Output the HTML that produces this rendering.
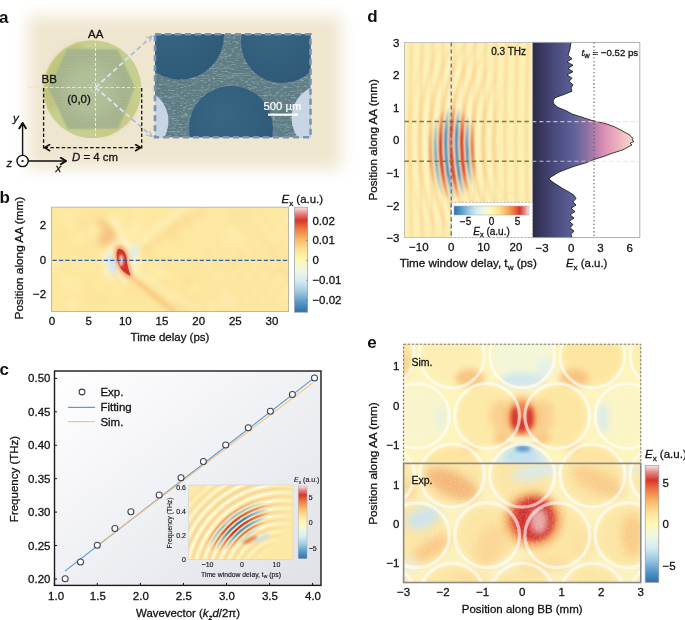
<!DOCTYPE html>
<html><head><meta charset="utf-8"><style>
html,body{margin:0;padding:0;background:#fff;width:685px;height:620px;overflow:hidden}
svg{display:block;will-change:transform}
text{font-family:"Liberation Sans",sans-serif;fill:#111;stroke:#111;stroke-width:0.28px}
</style></head><body>
<svg width="685" height="620" viewBox="0 0 685 620">
<defs>
<filter id="blur8" x="-20%" y="-20%" width="140%" height="140%"><feGaussianBlur stdDeviation="8"/></filter>
<filter id="blurR" x="-10%" y="-10%" width="120%" height="120%"><feGaussianBlur stdDeviation="0.45"/></filter>
<filter id="blur1" x="-50%" y="-50%" width="200%" height="200%"><feGaussianBlur stdDeviation="1"/></filter>
<filter id="blur2" x="-50%" y="-50%" width="200%" height="200%"><feGaussianBlur stdDeviation="2"/></filter>
<filter id="blur3" x="-50%" y="-50%" width="200%" height="200%"><feGaussianBlur stdDeviation="3"/></filter>
<filter id="blur4" x="-50%" y="-50%" width="200%" height="200%"><feGaussianBlur stdDeviation="4"/></filter>
<filter id="blur6" x="-50%" y="-50%" width="200%" height="200%"><feGaussianBlur stdDeviation="6"/></filter>
<marker id="arrB" viewBox="0 0 10 10" refX="9" refY="5" markerWidth="8.5" markerHeight="8.5" orient="auto-start-reverse" markerUnits="userSpaceOnUse"><path d="M2,0.6 L9,5 L2,9.4" fill="none" stroke="#111" stroke-width="2.3"/></marker>
<marker id="arrC" viewBox="0 0 10 10" refX="9" refY="5" markerWidth="8" markerHeight="8" orient="auto-start-reverse" markerUnits="userSpaceOnUse"><path d="M2,0.8 L9,5 L2,9.2" fill="none" stroke="#111" stroke-width="2"/></marker>
<marker id="arrL" viewBox="0 0 10 10" refX="9" refY="5" markerWidth="7" markerHeight="7" orient="auto" markerUnits="userSpaceOnUse"><path d="M1,1 L9,5 L1,9" fill="none" stroke="#a9b9d6" stroke-width="1.6"/></marker>
<pattern id="honey" width="3.2" height="5.5" patternUnits="userSpaceOnUse"><circle cx="1.6" cy="1.4" r="1.05" fill="#94a47e"/><circle cx="0" cy="4.15" r="1.05" fill="#94a47e"/><circle cx="3.2" cy="4.15" r="1.05" fill="#94a47e"/></pattern>
<radialGradient id="gCirc" cx="0.5" cy="0.5" r="0.5"><stop offset="0.7" stop-color="#c3c88a"/><stop offset="1" stop-color="#c9cb7c"/></radialGradient>
<radialGradient id="gHole" cx="0.4" cy="0.35" r="0.75"><stop offset="0" stop-color="#386683"/><stop offset="0.85" stop-color="#2f5b79"/><stop offset="1" stop-color="#2b5573"/></radialGradient>
<clipPath id="clipInset"><rect x="155" y="34.3" width="155.5" height="103"/></clipPath>
</defs>
<rect x="28" y="16" width="313" height="153" fill="#efe6cf" filter="url(#blur8)"/>
<circle cx="92.5" cy="89.2" r="49" fill="#c6cf90"/>
<path d="M50,112 A49,49 0 0 1 80,42 L84,50 A42,42 0 0 0 57,108 Z" fill="#bdbb6c" opacity="0.55" filter="url(#blur2)"/>
<path d="M100,137 A49,49 0 0 0 138,108 L128,104 A40,40 0 0 1 98,130 Z" fill="#c9c780" opacity="0.5" filter="url(#blur2)"/>
<polygon points="67.4,48.8 117.8,49.6 134.9,87.3 118.6,128.3 68.2,129.2 48.5,89" fill="#aab891" filter="url(#blur1)"/>
<polygon points="67.4,48.8 117.8,49.6 134.9,87.3 118.6,128.3 68.2,129.2 48.5,89" fill="url(#honey)" opacity="0.5"/>
<ellipse cx="90" cy="90" rx="26" ry="28" fill="#b9c69f" opacity="0.6" filter="url(#blur6)"/>
<line x1="28" y1="87.5" x2="154" y2="87.5" stroke="#dde4ef" stroke-width="1" stroke-dasharray="3.5 2"/>
<line x1="95.5" y1="38" x2="95.5" y2="141" stroke="#e6ebf3" stroke-width="1" stroke-dasharray="3 2"/>
<circle cx="95.2" cy="87.5" r="5" fill="none" stroke="#e4e9f0" stroke-width="0.9" stroke-dasharray="1.2 1.2"/>
<line x1="95.5" y1="87.5" x2="152" y2="36" stroke="#a9b9d6" stroke-width="1.7" stroke-dasharray="5 3" marker-end="url(#arrL)"/>
<line x1="95.5" y1="87.5" x2="152" y2="136.5" stroke="#a9b9d6" stroke-width="1.7" stroke-dasharray="5 3" marker-end="url(#arrL)"/>
<clipPath id="clipCirc"><circle cx="92.5" cy="89.2" r="48.5"/></clipPath>
<g clip-path="url(#clipCirc)"><line x1="95.5" y1="87.5" x2="152" y2="36" stroke="#dfe5f0" stroke-width="1.7" stroke-dasharray="5 3"/><line x1="95.5" y1="87.5" x2="152" y2="136.5" stroke="#dfe5f0" stroke-width="1.7" stroke-dasharray="5 3"/></g>
<line x1="43.6" y1="88" x2="43.6" y2="150" stroke="#111" stroke-width="1.3" stroke-dasharray="3.5 2.2"/>
<line x1="141.7" y1="88" x2="141.7" y2="150" stroke="#111" stroke-width="1.3" stroke-dasharray="3.5 2.2"/>
<line x1="44.6" y1="147.6" x2="140.7" y2="147.6" stroke="#111" stroke-width="1.3" stroke-dasharray="3.5 2.2" marker-start="url(#arrC)" marker-end="url(#arrC)"/>
<text x="88.0" y="37.6" font-size="11.5" text-anchor="start" >AA</text>
<text x="41.5" y="82.5" font-size="11.5" text-anchor="start" >BB</text>
<text x="67.2" y="103.0" font-size="11.5" text-anchor="start" >(0,0)</text>
<text x="72" y="161.4" font-size="11.4"><tspan font-style="italic">D</tspan> = 4 cm</text>
<circle cx="22.6" cy="161" r="5.6" fill="#fff" stroke="#111" stroke-width="1.4"/>
<circle cx="22.6" cy="161" r="1.1" fill="#111"/>
<line x1="22.6" y1="155.4" x2="22.6" y2="123" stroke="#111" stroke-width="1.4" marker-end="url(#arrB)"/>
<line x1="28.2" y1="161" x2="66" y2="161" stroke="#111" stroke-width="1.4" marker-end="url(#arrB)"/>
<text x="13" y="122" font-size="11.4" font-style="italic">y</text>
<text x="6.5" y="167" font-size="11.4" font-style="italic">z</text>
<text x="55.5" y="172" font-size="11.4" font-style="italic">x</text>
<g clip-path="url(#clipInset)">
<rect x="150" y="30" width="165" height="112" fill="#5e7c84"/>
<filter id="speck" x="0" y="0" width="100%" height="100%"><feTurbulence type="fractalNoise" baseFrequency="0.25 1.3" numOctaves="3" seed="9"/><feColorMatrix type="matrix" values="0 0 0 0 0.8  0 0 0 0 0.88  0 0 0 0 0.9  0 0 0 2.0 -1.0"/><feGaussianBlur stdDeviation="0.35"/></filter>
<rect x="150" y="30" width="165" height="112" filter="url(#speck)" opacity="0.55"/>
<line x1="191.9" y1="90.1" x2="209.1" y2="90.3" stroke="#9fb6ba" stroke-width="0.7" opacity="0.45"/>
<line x1="252.0" y1="40.7" x2="260.3" y2="41.4" stroke="#9fb6ba" stroke-width="0.7" opacity="0.45"/>
<line x1="195.2" y1="58.1" x2="228.1" y2="58.1" stroke="#9fb6ba" stroke-width="0.7" opacity="0.45"/>
<line x1="284.7" y1="83.1" x2="308.6" y2="82.4" stroke="#9fb6ba" stroke-width="0.7" opacity="0.45"/>
<line x1="253.4" y1="123.4" x2="274.5" y2="123.9" stroke="#9fb6ba" stroke-width="0.7" opacity="0.45"/>
<line x1="259.1" y1="40.6" x2="286.0" y2="40.8" stroke="#9fb6ba" stroke-width="0.7" opacity="0.45"/>
<line x1="201.7" y1="37.2" x2="231.3" y2="37.1" stroke="#9fb6ba" stroke-width="0.7" opacity="0.45"/>
<line x1="266.4" y1="124.5" x2="292.3" y2="125.4" stroke="#9fb6ba" stroke-width="0.7" opacity="0.45"/>
<line x1="216.2" y1="116.5" x2="235.3" y2="117.4" stroke="#9fb6ba" stroke-width="0.7" opacity="0.45"/>
<line x1="291.2" y1="44.0" x2="302.6" y2="43.5" stroke="#9fb6ba" stroke-width="0.7" opacity="0.45"/>
<line x1="304.6" y1="78.9" x2="328.3" y2="78.5" stroke="#9fb6ba" stroke-width="0.7" opacity="0.45"/>
<line x1="233.6" y1="73.7" x2="250.4" y2="73.9" stroke="#9fb6ba" stroke-width="0.7" opacity="0.45"/>
<line x1="245.6" y1="127.1" x2="270.6" y2="128.0" stroke="#9fb6ba" stroke-width="0.7" opacity="0.45"/>
<line x1="287.7" y1="136.1" x2="312.5" y2="135.4" stroke="#9fb6ba" stroke-width="0.7" opacity="0.45"/>
<line x1="288.4" y1="133.4" x2="319.0" y2="133.5" stroke="#9fb6ba" stroke-width="0.7" opacity="0.45"/>
<line x1="265.6" y1="55.7" x2="294.4" y2="55.9" stroke="#9fb6ba" stroke-width="0.7" opacity="0.45"/>
<line x1="199.2" y1="40.5" x2="228.5" y2="41.5" stroke="#9fb6ba" stroke-width="0.7" opacity="0.45"/>
<line x1="168.7" y1="116.5" x2="187.0" y2="115.8" stroke="#9fb6ba" stroke-width="0.7" opacity="0.45"/>
<line x1="200.6" y1="113.2" x2="230.4" y2="112.3" stroke="#9fb6ba" stroke-width="0.7" opacity="0.45"/>
<line x1="250.3" y1="38.6" x2="276.2" y2="38.3" stroke="#9fb6ba" stroke-width="0.7" opacity="0.45"/>
<line x1="291.5" y1="135.0" x2="312.2" y2="136.0" stroke="#9fb6ba" stroke-width="0.7" opacity="0.45"/>
<line x1="203.0" y1="41.9" x2="226.0" y2="41.0" stroke="#9fb6ba" stroke-width="0.7" opacity="0.45"/>
<line x1="185.6" y1="76.0" x2="208.9" y2="75.3" stroke="#9fb6ba" stroke-width="0.7" opacity="0.45"/>
<line x1="161.6" y1="123.4" x2="177.4" y2="124.3" stroke="#9fb6ba" stroke-width="0.7" opacity="0.45"/>
<line x1="294.0" y1="72.9" x2="313.5" y2="73.0" stroke="#9fb6ba" stroke-width="0.7" opacity="0.45"/>
<line x1="254.8" y1="95.4" x2="276.8" y2="95.6" stroke="#9fb6ba" stroke-width="0.7" opacity="0.45"/>
<line x1="300.8" y1="86.2" x2="319.6" y2="86.7" stroke="#9fb6ba" stroke-width="0.7" opacity="0.45"/>
<line x1="191.8" y1="65.0" x2="224.3" y2="65.1" stroke="#9fb6ba" stroke-width="0.7" opacity="0.45"/>
<line x1="240.0" y1="35.2" x2="258.4" y2="35.3" stroke="#9fb6ba" stroke-width="0.7" opacity="0.45"/>
<line x1="158.1" y1="97.4" x2="181.9" y2="96.5" stroke="#9fb6ba" stroke-width="0.7" opacity="0.45"/>
<line x1="252.2" y1="82.0" x2="277.2" y2="81.7" stroke="#9fb6ba" stroke-width="0.7" opacity="0.45"/>
<line x1="264.6" y1="110.0" x2="273.1" y2="109.1" stroke="#9fb6ba" stroke-width="0.7" opacity="0.45"/>
<line x1="259.8" y1="133.2" x2="274.1" y2="133.1" stroke="#9fb6ba" stroke-width="0.7" opacity="0.45"/>
<line x1="246.9" y1="67.0" x2="264.0" y2="66.6" stroke="#9fb6ba" stroke-width="0.7" opacity="0.45"/>
<line x1="212.2" y1="95.3" x2="227.7" y2="95.1" stroke="#9fb6ba" stroke-width="0.7" opacity="0.45"/>
<line x1="274.7" y1="36.8" x2="296.9" y2="37.2" stroke="#9fb6ba" stroke-width="0.7" opacity="0.45"/>
<line x1="203.1" y1="56.9" x2="231.1" y2="56.4" stroke="#9fb6ba" stroke-width="0.7" opacity="0.45"/>
<line x1="184.0" y1="78.8" x2="209.5" y2="78.0" stroke="#9fb6ba" stroke-width="0.7" opacity="0.45"/>
<line x1="204.9" y1="68.4" x2="233.7" y2="68.3" stroke="#9fb6ba" stroke-width="0.7" opacity="0.45"/>
<line x1="287.6" y1="51.4" x2="304.0" y2="51.7" stroke="#9fb6ba" stroke-width="0.7" opacity="0.45"/>
<line x1="292.2" y1="80.5" x2="305.8" y2="79.7" stroke="#9fb6ba" stroke-width="0.7" opacity="0.45"/>
<line x1="237.1" y1="53.7" x2="265.3" y2="54.3" stroke="#9fb6ba" stroke-width="0.7" opacity="0.45"/>
<line x1="183.5" y1="62.7" x2="211.6" y2="63.0" stroke="#9fb6ba" stroke-width="0.7" opacity="0.45"/>
<line x1="280.0" y1="69.6" x2="291.2" y2="69.1" stroke="#9fb6ba" stroke-width="0.7" opacity="0.45"/>
<line x1="278.0" y1="61.9" x2="294.7" y2="61.8" stroke="#9fb6ba" stroke-width="0.7" opacity="0.45"/>
<line x1="220.1" y1="76.2" x2="251.1" y2="75.5" stroke="#9fb6ba" stroke-width="0.7" opacity="0.45"/>
<line x1="155.7" y1="131.2" x2="185.7" y2="132.1" stroke="#9fb6ba" stroke-width="0.7" opacity="0.45"/>
<line x1="222.3" y1="131.9" x2="253.5" y2="131.3" stroke="#9fb6ba" stroke-width="0.7" opacity="0.45"/>
<line x1="270.6" y1="120.2" x2="295.1" y2="120.2" stroke="#9fb6ba" stroke-width="0.7" opacity="0.45"/>
<line x1="199.8" y1="69.1" x2="213.5" y2="68.3" stroke="#9fb6ba" stroke-width="0.7" opacity="0.45"/>
<line x1="246.2" y1="63.6" x2="274.5" y2="62.7" stroke="#9fb6ba" stroke-width="0.7" opacity="0.45"/>
<line x1="295.1" y1="105.5" x2="326.2" y2="106.2" stroke="#9fb6ba" stroke-width="0.7" opacity="0.45"/>
<line x1="294.4" y1="93.4" x2="302.8" y2="93.9" stroke="#9fb6ba" stroke-width="0.7" opacity="0.45"/>
<line x1="181.6" y1="64.9" x2="206.2" y2="64.9" stroke="#9fb6ba" stroke-width="0.7" opacity="0.45"/>
<line x1="219.1" y1="130.7" x2="242.4" y2="130.4" stroke="#9fb6ba" stroke-width="0.7" opacity="0.45"/>
<line x1="194.1" y1="122.8" x2="214.1" y2="123.3" stroke="#9fb6ba" stroke-width="0.7" opacity="0.45"/>
<line x1="209.5" y1="54.3" x2="230.9" y2="55.0" stroke="#9fb6ba" stroke-width="0.7" opacity="0.45"/>
<line x1="181.6" y1="115.5" x2="212.6" y2="116.2" stroke="#9fb6ba" stroke-width="0.7" opacity="0.45"/>
<line x1="282.6" y1="34.8" x2="306.4" y2="35.5" stroke="#9fb6ba" stroke-width="0.7" opacity="0.45"/>
<line x1="162.7" y1="62.0" x2="177.5" y2="62.0" stroke="#9fb6ba" stroke-width="0.7" opacity="0.45"/>
<circle cx="136" cy="121" r="32.5" fill="#c8d5e4"/>
<circle cx="325" cy="118" r="33.5" fill="#c8d5e4"/>
<circle cx="180" cy="35.5" r="44" fill="url(#gHole)"/>
<circle cx="282" cy="42" r="41" fill="url(#gHole)"/>
<circle cx="231" cy="128" r="42" fill="url(#gHole)"/>
</g>
<rect x="155" y="34.3" width="155.5" height="103" fill="none" stroke="#7b93b8" stroke-width="2.6" stroke-dasharray="6 4"/>
<text x="263.4" y="110.2" font-size="11.3" style="fill:#fff;stroke:#fff;stroke-width:0.2px">500 µm</text>
<rect x="268" y="113.6" width="30" height="2.2" fill="#fff"/>
<text x="-1.1" y="22.7" font-size="17" font-weight="bold" style="stroke-width:0">a</text>
<text x="-0.5" y="203.0" font-size="17" font-weight="bold" style="stroke-width:0">b</text>
<text x="-0.5" y="374.5" font-size="17" font-weight="bold" style="stroke-width:0">c</text>
<text x="367.2" y="22.4" font-size="17" font-weight="bold" style="stroke-width:0">d</text>
<text x="367.2" y="348.4" font-size="17" font-weight="bold" style="stroke-width:0">e</text>
<clipPath id="clipB"><rect x="51.5" y="207.2" width="237.1" height="104.4"/></clipPath>
<g clip-path="url(#clipB)">
<rect x="51.5" y="207.2" width="237.1" height="104.4" fill="#fde89f"/>
<ellipse cx="128.3" cy="222.9" rx="4.4" ry="5.7" fill="#fbdf98" opacity="0.5" filter="url(#blur3)"/>
<ellipse cx="138.2" cy="213.3" rx="4.2" ry="5.2" fill="#feefb2" opacity="0.5" filter="url(#blur3)"/>
<ellipse cx="68.1" cy="216.7" rx="4.4" ry="5.8" fill="#fff1b6" opacity="0.5" filter="url(#blur3)"/>
<ellipse cx="276.1" cy="273.0" rx="7.5" ry="5.0" fill="#fbdf98" opacity="0.5" filter="url(#blur3)"/>
<ellipse cx="283.0" cy="212.1" rx="5.7" ry="3.7" fill="#feefb2" opacity="0.5" filter="url(#blur3)"/>
<ellipse cx="79.4" cy="239.4" rx="4.6" ry="5.9" fill="#feefb2" opacity="0.5" filter="url(#blur3)"/>
<ellipse cx="96.0" cy="217.4" rx="7.4" ry="6.1" fill="#fbdf98" opacity="0.5" filter="url(#blur3)"/>
<ellipse cx="169.2" cy="262.7" rx="6.8" ry="7.6" fill="#fce095" opacity="0.5" filter="url(#blur3)"/>
<ellipse cx="137.2" cy="233.1" rx="8.2" ry="4.2" fill="#feefb2" opacity="0.5" filter="url(#blur3)"/>
<ellipse cx="187.7" cy="262.0" rx="8.4" ry="4.4" fill="#fce095" opacity="0.5" filter="url(#blur3)"/>
<ellipse cx="283.9" cy="219.5" rx="5.0" ry="4.7" fill="#fff1b6" opacity="0.5" filter="url(#blur3)"/>
<ellipse cx="272.8" cy="251.2" rx="8.6" ry="5.9" fill="#fbdf98" opacity="0.5" filter="url(#blur3)"/>
<ellipse cx="259.1" cy="240.0" rx="7.6" ry="5.9" fill="#fce095" opacity="0.5" filter="url(#blur3)"/>
<ellipse cx="159.7" cy="294.9" rx="6.8" ry="6.3" fill="#fce095" opacity="0.5" filter="url(#blur3)"/>
<ellipse cx="65.9" cy="280.4" rx="5.7" ry="4.9" fill="#fff1b6" opacity="0.5" filter="url(#blur3)"/>
<ellipse cx="210.0" cy="209.6" rx="6.1" ry="6.1" fill="#fff1b6" opacity="0.5" filter="url(#blur3)"/>
<ellipse cx="168.6" cy="230.0" rx="4.8" ry="4.2" fill="#fce095" opacity="0.5" filter="url(#blur3)"/>
<ellipse cx="144.2" cy="298.2" rx="5.0" ry="5.0" fill="#fbdf98" opacity="0.5" filter="url(#blur3)"/>
<ellipse cx="117.4" cy="221.5" rx="9.2" ry="4.4" fill="#fff1b6" opacity="0.5" filter="url(#blur3)"/>
<ellipse cx="150.0" cy="244.7" rx="9.7" ry="3.8" fill="#fff1b6" opacity="0.5" filter="url(#blur3)"/>
<ellipse cx="93.3" cy="231.4" rx="4.1" ry="7.2" fill="#feefb2" opacity="0.5" filter="url(#blur3)"/>
<ellipse cx="94.7" cy="236.6" rx="6.5" ry="4.8" fill="#feefb2" opacity="0.5" filter="url(#blur3)"/>
<ellipse cx="185.8" cy="306.7" rx="6.7" ry="7.4" fill="#fbdf98" opacity="0.5" filter="url(#blur3)"/>
<ellipse cx="277.2" cy="278.3" rx="6.4" ry="5.0" fill="#fff1b6" opacity="0.5" filter="url(#blur3)"/>
<ellipse cx="165.7" cy="249.0" rx="4.4" ry="4.0" fill="#feefb2" opacity="0.5" filter="url(#blur3)"/>
<ellipse cx="90.0" cy="242.7" rx="4.6" ry="5.8" fill="#fbdf98" opacity="0.5" filter="url(#blur3)"/>
<ellipse cx="178.7" cy="306.3" rx="4.4" ry="4.0" fill="#fbdf98" opacity="0.5" filter="url(#blur3)"/>
<ellipse cx="140.7" cy="273.4" rx="7.6" ry="5.4" fill="#fce095" opacity="0.5" filter="url(#blur3)"/>
<ellipse cx="78.9" cy="258.2" rx="6.9" ry="4.6" fill="#fff1b6" opacity="0.5" filter="url(#blur3)"/>
<ellipse cx="85.7" cy="285.5" rx="6.9" ry="6.5" fill="#fce095" opacity="0.5" filter="url(#blur3)"/>
<ellipse cx="173.9" cy="228.6" rx="4.9" ry="5.7" fill="#fce095" opacity="0.5" filter="url(#blur3)"/>
<ellipse cx="57.9" cy="262.3" rx="8.2" ry="4.3" fill="#fbdf98" opacity="0.5" filter="url(#blur3)"/>
<ellipse cx="138.4" cy="224.6" rx="7.2" ry="6.9" fill="#feefb2" opacity="0.5" filter="url(#blur3)"/>
<ellipse cx="129.7" cy="230.5" rx="8.8" ry="7.1" fill="#feefb2" opacity="0.5" filter="url(#blur3)"/>
<ellipse cx="226.9" cy="230.9" rx="6.1" ry="3.1" fill="#fff1b6" opacity="0.5" filter="url(#blur3)"/>
<ellipse cx="58.1" cy="236.4" rx="5.2" ry="6.0" fill="#fce095" opacity="0.5" filter="url(#blur3)"/>
<ellipse cx="133.1" cy="291.6" rx="9.7" ry="4.8" fill="#fce095" opacity="0.5" filter="url(#blur3)"/>
<ellipse cx="103.8" cy="230.9" rx="6.0" ry="5.4" fill="#feefb2" opacity="0.5" filter="url(#blur3)"/>
<ellipse cx="285.1" cy="270.9" rx="6.9" ry="6.3" fill="#fbdf98" opacity="0.5" filter="url(#blur3)"/>
<ellipse cx="241.1" cy="216.1" rx="9.5" ry="6.9" fill="#fbdf98" opacity="0.5" filter="url(#blur3)"/>
<ellipse cx="229.4" cy="257.1" rx="6.6" ry="6.2" fill="#feefb2" opacity="0.5" filter="url(#blur3)"/>
<ellipse cx="72.1" cy="306.0" rx="6.8" ry="6.7" fill="#fff1b6" opacity="0.5" filter="url(#blur3)"/>
<ellipse cx="71.6" cy="223.8" rx="4.2" ry="6.0" fill="#feefb2" opacity="0.5" filter="url(#blur3)"/>
<ellipse cx="161.8" cy="275.7" rx="7.9" ry="4.8" fill="#fff1b6" opacity="0.5" filter="url(#blur3)"/>
<ellipse cx="181.6" cy="220.9" rx="8.8" ry="6.6" fill="#fbdf98" opacity="0.5" filter="url(#blur3)"/>
<ellipse cx="75.9" cy="285.4" rx="6.6" ry="7.4" fill="#feefb2" opacity="0.5" filter="url(#blur3)"/>
<ellipse cx="247.4" cy="229.2" rx="5.3" ry="5.5" fill="#fce095" opacity="0.5" filter="url(#blur3)"/>
<ellipse cx="232.6" cy="241.2" rx="9.0" ry="3.3" fill="#fff1b6" opacity="0.5" filter="url(#blur3)"/>
<ellipse cx="226.9" cy="300.9" rx="9.0" ry="7.4" fill="#fff1b6" opacity="0.5" filter="url(#blur3)"/>
<ellipse cx="82.5" cy="223.1" rx="9.2" ry="6.9" fill="#fbdf98" opacity="0.5" filter="url(#blur3)"/>
<ellipse cx="195.8" cy="288.2" rx="5.0" ry="5.4" fill="#feefb2" opacity="0.5" filter="url(#blur3)"/>
<ellipse cx="223.4" cy="265.3" rx="8.1" ry="5.7" fill="#fce095" opacity="0.5" filter="url(#blur3)"/>
<ellipse cx="165.9" cy="288.3" rx="5.5" ry="4.4" fill="#fbdf98" opacity="0.5" filter="url(#blur3)"/>
<ellipse cx="234.6" cy="260.2" rx="8.6" ry="7.6" fill="#fbdf98" opacity="0.5" filter="url(#blur3)"/>
<ellipse cx="156.6" cy="271.1" rx="8.2" ry="5.3" fill="#feefb2" opacity="0.5" filter="url(#blur3)"/>
<ellipse cx="177.9" cy="257.1" rx="8.2" ry="7.4" fill="#feefb2" opacity="0.5" filter="url(#blur3)"/>
<ellipse cx="274.9" cy="234.3" rx="9.0" ry="3.7" fill="#feefb2" opacity="0.5" filter="url(#blur3)"/>
<ellipse cx="80.3" cy="253.4" rx="8.0" ry="5.1" fill="#fbdf98" opacity="0.5" filter="url(#blur3)"/>
<ellipse cx="101.9" cy="238.8" rx="9.4" ry="3.8" fill="#fbdf98" opacity="0.5" filter="url(#blur3)"/>
<ellipse cx="221.3" cy="276.1" rx="5.5" ry="3.7" fill="#feefb2" opacity="0.5" filter="url(#blur3)"/>
<ellipse cx="162.4" cy="285.2" rx="6.4" ry="5.4" fill="#fbdf98" opacity="0.5" filter="url(#blur3)"/>
<ellipse cx="286.2" cy="294.1" rx="8.2" ry="8.0" fill="#feefb2" opacity="0.5" filter="url(#blur3)"/>
<ellipse cx="147.2" cy="251.2" rx="5.9" ry="6.6" fill="#fce095" opacity="0.5" filter="url(#blur3)"/>
<ellipse cx="56.1" cy="265.0" rx="8.2" ry="4.9" fill="#fff1b6" opacity="0.5" filter="url(#blur3)"/>
<ellipse cx="174.2" cy="238.0" rx="4.7" ry="7.6" fill="#fbdf98" opacity="0.5" filter="url(#blur3)"/>
<ellipse cx="105.7" cy="298.7" rx="5.6" ry="3.2" fill="#fbdf98" opacity="0.5" filter="url(#blur3)"/>
<ellipse cx="236.2" cy="235.4" rx="8.9" ry="7.2" fill="#feefb2" opacity="0.5" filter="url(#blur3)"/>
<ellipse cx="211.8" cy="306.0" rx="4.9" ry="7.6" fill="#fff1b6" opacity="0.5" filter="url(#blur3)"/>
<ellipse cx="186.8" cy="280.3" rx="5.7" ry="7.0" fill="#fbdf98" opacity="0.5" filter="url(#blur3)"/>
<ellipse cx="95.0" cy="300.7" rx="9.6" ry="6.2" fill="#fce095" opacity="0.5" filter="url(#blur3)"/>
<path d="M127,273 L158,299 L175,312" stroke="#f7c07c" stroke-width="5" fill="none" opacity="0.8" filter="url(#blur2)"/>
<path d="M132,268 L165,290 L200,312" stroke="#fff1c0" stroke-width="5" fill="none" opacity="0.8" filter="url(#blur3)"/>
<path d="M136,246 L166,221 L185,207" stroke="#fff1c0" stroke-width="6" fill="none" opacity="0.8" filter="url(#blur3)"/>
<path d="M142,252 L180,225 L210,207" stroke="#f9d08e" stroke-width="5" fill="none" opacity="0.55" filter="url(#blur3)"/>
<path d="M121,248 L100,220" stroke="#f6bd7d" stroke-width="7" fill="none" opacity="0.8" filter="url(#blur3)"/>
<path d="M126,245 L112,217" stroke="#fff3c4" stroke-width="5" fill="none" opacity="0.8" filter="url(#blur2)"/>
<g opacity="0.35" filter="url(#blur3)"><path d="M170,207 L240,312" stroke="#fff0bd" stroke-width="4" fill="none"/><path d="M170,312 L240,207" stroke="#fbdb9c" stroke-width="4" fill="none"/><path d="M186,207 L256,312" stroke="#fff0bd" stroke-width="4" fill="none"/><path d="M186,312 L256,207" stroke="#fbdb9c" stroke-width="4" fill="none"/><path d="M202,207 L272,312" stroke="#fff0bd" stroke-width="4" fill="none"/><path d="M202,312 L272,207" stroke="#fbdb9c" stroke-width="4" fill="none"/><path d="M218,207 L288,312" stroke="#fff0bd" stroke-width="4" fill="none"/><path d="M218,312 L288,207" stroke="#fbdb9c" stroke-width="4" fill="none"/><path d="M234,207 L304,312" stroke="#fff0bd" stroke-width="4" fill="none"/><path d="M234,312 L304,207" stroke="#fbdb9c" stroke-width="4" fill="none"/><path d="M250,207 L320,312" stroke="#fff0bd" stroke-width="4" fill="none"/><path d="M250,312 L320,207" stroke="#fbdb9c" stroke-width="4" fill="none"/><path d="M266,207 L336,312" stroke="#fff0bd" stroke-width="4" fill="none"/><path d="M266,312 L336,207" stroke="#fbdb9c" stroke-width="4" fill="none"/><path d="M282,207 L352,312" stroke="#fff0bd" stroke-width="4" fill="none"/><path d="M282,312 L352,207" stroke="#fbdb9c" stroke-width="4" fill="none"/></g>
<ellipse cx="121" cy="260" rx="18" ry="22" fill="#fff6cf" opacity="0.9" filter="url(#blur4)"/>
<ellipse cx="106" cy="238" rx="7" ry="10" transform="rotate(25 106 238)" fill="#f7bf7e" opacity="0.85" filter="url(#blur3)"/>
<path d="M112,270 L120,283" stroke="#fad493" stroke-width="5" fill="none" opacity="0.6" filter="url(#blur2)"/>
<ellipse cx="111.5" cy="264" rx="4.5" ry="11" transform="rotate(-20 111.5 264)" fill="#d3e9f3" filter="url(#blur2)"/>
<ellipse cx="133.5" cy="252.5" rx="3.6" ry="8" transform="rotate(18 133.5 252.5)" fill="#dcedf0" filter="url(#blur2)"/>
<path d="M119,250.5 C123,250.5 125.5,254 126,259 C126.5,265 128,270 129.5,274 C125,272.5 121,269 119,264 C117,259 116.5,253 119,250.5 Z" fill="#ef8a4c" transform="translate(122 262) scale(1.45) translate(-122 -262)" filter="url(#blur2)"/>
<path d="M119,250.5 C123,250.5 125.5,254 126,259 C126.5,265 128,270 129.5,274 C125,272.5 121,269 119,264 C117,259 116.5,253 119,250.5 Z" fill="#d3302a" transform="translate(122 262) scale(1.15) translate(-122 -262)" filter="url(#blurR)"/>
<ellipse cx="121.2" cy="260.5" rx="2.2" ry="6" fill="#f0c6c6" filter="url(#blur1)"/>
</g>
<rect x="51.5" y="207.2" width="237.1" height="104.4" fill="none" stroke="#b0a890" stroke-width="0.8"/>
<line x1="52.5" y1="260.4" x2="288.6" y2="260.4" stroke="#2f5d9e" stroke-width="1.3" stroke-dasharray="4.3 2.1"/>
<text x="46.2" y="228.8" font-size="11.5" text-anchor="end" >2</text>
<text x="46.2" y="263.6" font-size="11.5" text-anchor="end" >0</text>
<text x="46.2" y="298.4" font-size="11.5" text-anchor="end" >−2</text>
<text x="52.0" y="325.0" font-size="11.5" text-anchor="middle" >0</text>
<text x="88.7" y="325.0" font-size="11.5" text-anchor="middle" >5</text>
<text x="125.3" y="325.0" font-size="11.5" text-anchor="middle" >10</text>
<text x="162.0" y="325.0" font-size="11.5" text-anchor="middle" >15</text>
<text x="198.7" y="325.0" font-size="11.5" text-anchor="middle" >20</text>
<text x="235.3" y="325.0" font-size="11.5" text-anchor="middle" >25</text>
<text x="272.0" y="325.0" font-size="11.5" text-anchor="middle" >30</text>
<text x="170.0" y="341.0" font-size="11.5" text-anchor="middle" >Time delay (ps)</text>
<text transform="translate(22.7,258.1) rotate(-90)" x="0" y="0" font-size="11.8" text-anchor="middle">Position along AA (mm)</text>
<linearGradient id="cbV" x1="0" y1="0" x2="0" y2="1"><stop offset="0.000" stop-color="#fbe4e4"/><stop offset="0.060" stop-color="#e48585"/><stop offset="0.125" stop-color="#d7352b"/><stop offset="0.200" stop-color="#ee7440"/><stop offset="0.300" stop-color="#f9b464"/><stop offset="0.400" stop-color="#fee196"/><stop offset="0.500" stop-color="#fff7b2"/><stop offset="0.600" stop-color="#eef7e2"/><stop offset="0.700" stop-color="#d6ecf3"/><stop offset="0.800" stop-color="#9fcbe3"/><stop offset="0.900" stop-color="#5a9bcb"/><stop offset="1.000" stop-color="#2a70b0"/></linearGradient>
<rect x="294.6" y="207.2" width="13.1" height="105" fill="url(#cbV)" stroke="#999" stroke-width="0.7"/>
<text x="312.4" y="224.5" font-size="11.5" text-anchor="start" >0.02</text>
<line x1="306" y1="220.5" x2="307.7" y2="220.5" stroke="#666" stroke-width="0.6"/>
<text x="312.4" y="244.4" font-size="11.5" text-anchor="start" >0.01</text>
<line x1="306" y1="240.4" x2="307.7" y2="240.4" stroke="#666" stroke-width="0.6"/>
<text x="312.4" y="264.4" font-size="11.5" text-anchor="start" >0</text>
<line x1="306" y1="260.4" x2="307.7" y2="260.4" stroke="#666" stroke-width="0.6"/>
<text x="312.4" y="284.3" font-size="11.5" text-anchor="start" >−0.01</text>
<line x1="306" y1="280.3" x2="307.7" y2="280.3" stroke="#666" stroke-width="0.6"/>
<text x="312.4" y="304.3" font-size="11.5" text-anchor="start" >−0.02</text>
<line x1="306" y1="300.3" x2="307.7" y2="300.3" stroke="#666" stroke-width="0.6"/>
<text x="281.6" y="203" font-size="11.4"><tspan font-style="italic">E</tspan><tspan font-size="8" dy="2.5">x</tspan><tspan dy="-2.5"> (a.u.)</tspan></text>
<linearGradient id="gC" x1="0" y1="0" x2="1" y2="1"><stop offset="0" stop-color="#ffffff"/><stop offset="0.55" stop-color="#eeeff3"/><stop offset="1" stop-color="#e0e1e6"/></linearGradient>
<rect x="54.5" y="371.0" width="266.5" height="214.4" fill="url(#gC)"/>
<line x1="54.5" y1="378.4" x2="57.0" y2="378.4" stroke="#111" stroke-width="1"/>
<text x="50.5" y="382.4" font-size="11.5" text-anchor="end" >0.50</text>
<line x1="54.5" y1="411.8" x2="57.0" y2="411.8" stroke="#111" stroke-width="1"/>
<text x="50.5" y="415.8" font-size="11.5" text-anchor="end" >0.45</text>
<line x1="54.5" y1="445.3" x2="57.0" y2="445.3" stroke="#111" stroke-width="1"/>
<text x="50.5" y="449.3" font-size="11.5" text-anchor="end" >0.40</text>
<line x1="54.5" y1="478.7" x2="57.0" y2="478.7" stroke="#111" stroke-width="1"/>
<text x="50.5" y="482.7" font-size="11.5" text-anchor="end" >0.35</text>
<line x1="54.5" y1="512.1" x2="57.0" y2="512.1" stroke="#111" stroke-width="1"/>
<text x="50.5" y="516.1" font-size="11.5" text-anchor="end" >0.30</text>
<line x1="54.5" y1="545.5" x2="57.0" y2="545.5" stroke="#111" stroke-width="1"/>
<text x="50.5" y="549.5" font-size="11.5" text-anchor="end" >0.25</text>
<line x1="54.5" y1="579.0" x2="57.0" y2="579.0" stroke="#111" stroke-width="1"/>
<text x="50.5" y="583.0" font-size="11.5" text-anchor="end" >0.20</text>
<line x1="54.3" y1="585.4" x2="54.3" y2="582.9" stroke="#111" stroke-width="1"/>
<text x="56.1" y="600.0" font-size="11.5" text-anchor="middle" >1.0</text>
<line x1="97.3" y1="585.4" x2="97.3" y2="582.9" stroke="#111" stroke-width="1"/>
<text x="97.8" y="600.0" font-size="11.5" text-anchor="middle" >1.5</text>
<line x1="140.4" y1="585.4" x2="140.4" y2="582.9" stroke="#111" stroke-width="1"/>
<text x="140.8" y="600.0" font-size="11.5" text-anchor="middle" >2.0</text>
<line x1="183.4" y1="585.4" x2="183.4" y2="582.9" stroke="#111" stroke-width="1"/>
<text x="183.8" y="600.0" font-size="11.5" text-anchor="middle" >2.5</text>
<line x1="226.5" y1="585.4" x2="226.5" y2="582.9" stroke="#111" stroke-width="1"/>
<text x="226.9" y="600.0" font-size="11.5" text-anchor="middle" >3.0</text>
<line x1="269.6" y1="585.4" x2="269.6" y2="582.9" stroke="#111" stroke-width="1"/>
<text x="269.9" y="600.0" font-size="11.5" text-anchor="middle" >3.5</text>
<line x1="312.6" y1="585.4" x2="312.6" y2="582.9" stroke="#111" stroke-width="1"/>
<text x="313.0" y="600.0" font-size="11.5" text-anchor="middle" >4.0</text>
<text x="188" y="617" font-size="11.4" text-anchor="middle">Wavevector (<tspan font-style="italic">k</tspan><tspan font-style="italic" font-size="8" dy="2.5">z</tspan><tspan font-style="italic" dy="-2.5">d</tspan>/2π)</text>
<text transform="translate(17.5,479) rotate(-90)" font-size="11.5" text-anchor="middle">Frequency (THz)</text>
<line x1="64.9" y1="571.1" x2="314.5" y2="377.6" stroke="#5b9bd3" stroke-width="1.2"/>
<line x1="97.4" y1="545.2" x2="312.6" y2="383.1" stroke="#f5c57e" stroke-width="1.2" opacity="0.9"/>
<clipPath id="clipCI"><rect x="188.6" y="485.0" width="104.4" height="74.4"/></clipPath>
<radialGradient id="rgW"><stop offset="0" stop-color="#fff"/><stop offset="0.45" stop-color="#fff" stop-opacity="0.9"/><stop offset="1" stop-color="#000" stop-opacity="0"/></radialGradient>
<radialGradient id="rgW2"><stop offset="0" stop-color="#fff"/><stop offset="1" stop-color="#fff" stop-opacity="0"/></radialGradient>
<radialGradient id="rgP"><stop offset="0" stop-color="#fff"/><stop offset="0.5" stop-color="#fff"/><stop offset="1" stop-color="#fff" stop-opacity="0"/></radialGradient>
<radialGradient id="rgQ"><stop offset="0" stop-color="#fff"/><stop offset="0.25" stop-color="#fff"/><stop offset="0.6" stop-color="#fff" stop-opacity="0.5"/><stop offset="1" stop-color="#fff" stop-opacity="0"/></radialGradient>
<mask id="mCI" maskUnits="userSpaceOnUse" x="150" y="450" width="200" height="150"><ellipse cx="238" cy="526" rx="38" ry="17" transform="rotate(-36 238 526)" fill="url(#rgQ)"/></mask>
<mask id="mCI2" maskUnits="userSpaceOnUse" x="150" y="450" width="200" height="150"><ellipse cx="232" cy="520" rx="85" ry="50" transform="rotate(-38 232 520)" fill="url(#rgP)"/></mask>
<g clip-path="url(#clipCI)">
<rect x="188.6" y="485.0" width="104.4" height="74.4" fill="#fde9a6"/>
<g mask="url(#mCI2)" filter="url(#blurR)"><circle cx="283" cy="582" r="7.6" fill="none" stroke="#f9d59c" stroke-width="2.3"/><circle cx="283" cy="582" r="11.5" fill="none" stroke="#fffadb" stroke-width="2.3"/><circle cx="283" cy="582" r="15.4" fill="none" stroke="#f9d59c" stroke-width="2.3"/><circle cx="283" cy="582" r="19.3" fill="none" stroke="#fffadb" stroke-width="2.3"/><circle cx="283" cy="582" r="23.2" fill="none" stroke="#f9d59c" stroke-width="2.3"/><circle cx="283" cy="582" r="27.1" fill="none" stroke="#fffadb" stroke-width="2.3"/><circle cx="283" cy="582" r="31.0" fill="none" stroke="#f9d59c" stroke-width="2.3"/><circle cx="283" cy="582" r="34.9" fill="none" stroke="#fffadb" stroke-width="2.3"/><circle cx="283" cy="582" r="38.8" fill="none" stroke="#f9d59c" stroke-width="2.3"/><circle cx="283" cy="582" r="42.7" fill="none" stroke="#fffadb" stroke-width="2.3"/><circle cx="283" cy="582" r="46.6" fill="none" stroke="#f9d59c" stroke-width="2.3"/><circle cx="283" cy="582" r="50.5" fill="none" stroke="#fffadb" stroke-width="2.3"/><circle cx="283" cy="582" r="54.4" fill="none" stroke="#f9d59c" stroke-width="2.3"/><circle cx="283" cy="582" r="58.3" fill="none" stroke="#fffadb" stroke-width="2.3"/><circle cx="283" cy="582" r="62.2" fill="none" stroke="#f9d59c" stroke-width="2.3"/><circle cx="283" cy="582" r="66.1" fill="none" stroke="#fffadb" stroke-width="2.3"/><circle cx="283" cy="582" r="70.0" fill="none" stroke="#f9d59c" stroke-width="2.3"/><circle cx="283" cy="582" r="73.9" fill="none" stroke="#fffadb" stroke-width="2.3"/><circle cx="283" cy="582" r="77.8" fill="none" stroke="#f9d59c" stroke-width="2.3"/><circle cx="283" cy="582" r="81.7" fill="none" stroke="#fffadb" stroke-width="2.3"/><circle cx="283" cy="582" r="85.6" fill="none" stroke="#f9d59c" stroke-width="2.3"/><circle cx="283" cy="582" r="89.5" fill="none" stroke="#fffadb" stroke-width="2.3"/><circle cx="283" cy="582" r="93.4" fill="none" stroke="#f9d59c" stroke-width="2.3"/><circle cx="283" cy="582" r="97.3" fill="none" stroke="#fffadb" stroke-width="2.3"/><circle cx="283" cy="582" r="101.2" fill="none" stroke="#f9d59c" stroke-width="2.3"/><circle cx="283" cy="582" r="105.1" fill="none" stroke="#fffadb" stroke-width="2.3"/><circle cx="283" cy="582" r="109.0" fill="none" stroke="#f9d59c" stroke-width="2.3"/><circle cx="283" cy="582" r="112.9" fill="none" stroke="#fffadb" stroke-width="2.3"/><circle cx="283" cy="582" r="116.8" fill="none" stroke="#f9d59c" stroke-width="2.3"/><circle cx="283" cy="582" r="120.7" fill="none" stroke="#fffadb" stroke-width="2.3"/><circle cx="283" cy="582" r="124.6" fill="none" stroke="#f9d59c" stroke-width="2.3"/><circle cx="283" cy="582" r="128.5" fill="none" stroke="#fffadb" stroke-width="2.3"/><circle cx="283" cy="582" r="132.4" fill="none" stroke="#f9d59c" stroke-width="2.3"/><circle cx="283" cy="582" r="136.3" fill="none" stroke="#fffadb" stroke-width="2.3"/><circle cx="283" cy="582" r="140.2" fill="none" stroke="#f9d59c" stroke-width="2.3"/><circle cx="283" cy="582" r="144.1" fill="none" stroke="#fffadb" stroke-width="2.3"/></g>
<g mask="url(#mCI)" filter="url(#blurR)"><circle cx="283" cy="582" r="42.7" fill="none" stroke="#3a86c4" stroke-width="2.3"/><circle cx="283" cy="582" r="46.6" fill="none" stroke="#d3322a" stroke-width="2.3"/><circle cx="283" cy="582" r="50.5" fill="none" stroke="#3a86c4" stroke-width="2.3"/><circle cx="283" cy="582" r="54.4" fill="none" stroke="#d3322a" stroke-width="2.3"/><circle cx="283" cy="582" r="58.3" fill="none" stroke="#3a86c4" stroke-width="2.3"/><circle cx="283" cy="582" r="62.2" fill="none" stroke="#d3322a" stroke-width="2.3"/><circle cx="283" cy="582" r="66.1" fill="none" stroke="#3a86c4" stroke-width="2.3"/><circle cx="283" cy="582" r="70.0" fill="none" stroke="#d3322a" stroke-width="2.3"/><circle cx="283" cy="582" r="73.9" fill="none" stroke="#3a86c4" stroke-width="2.3"/><circle cx="283" cy="582" r="77.8" fill="none" stroke="#d3322a" stroke-width="2.3"/><circle cx="283" cy="582" r="81.7" fill="none" stroke="#3a86c4" stroke-width="2.3"/><circle cx="283" cy="582" r="85.6" fill="none" stroke="#d3322a" stroke-width="2.3"/><circle cx="283" cy="582" r="89.5" fill="none" stroke="#3a86c4" stroke-width="2.3"/><circle cx="283" cy="582" r="93.4" fill="none" stroke="#d3322a" stroke-width="2.3"/><circle cx="283" cy="582" r="97.3" fill="none" stroke="#3a86c4" stroke-width="2.3"/></g>
<ellipse cx="228" cy="522" rx="6" ry="1.5" transform="rotate(-35 228 522)" fill="#f6d6d0" opacity="0.8" filter="url(#blur1)"/>
<ellipse cx="262" cy="538" rx="9" ry="2.5" transform="rotate(-25 262 538)" fill="#bfdff0" opacity="0.8" filter="url(#blur1)"/>
<ellipse cx="250" cy="540" rx="8" ry="2.5" transform="rotate(-25 250 540)" fill="#e06a40" opacity="0.7" filter="url(#blur1)"/>
</g>
<rect x="188.6" y="485.0" width="104.4" height="74.4" fill="none" stroke="#ccc" stroke-width="0.5"/>
<text x="186.0" y="489.5" font-size="7" text-anchor="end"  style="stroke-width:0.12px">0.6</text>
<text x="186.0" y="513.6" font-size="7" text-anchor="end"  style="stroke-width:0.12px">0.4</text>
<text x="186.0" y="537.7" font-size="7" text-anchor="end"  style="stroke-width:0.12px">0.2</text>
<text x="186.0" y="561.8" font-size="7" text-anchor="end"  style="stroke-width:0.12px">0</text>
<text x="207.5" y="567.0" font-size="7" text-anchor="middle"  style="stroke-width:0.12px">−10</text>
<text x="242.0" y="567.0" font-size="7" text-anchor="middle"  style="stroke-width:0.12px">0</text>
<text x="276.5" y="567.0" font-size="7" text-anchor="middle"  style="stroke-width:0.12px">10</text>
<text x="241.0" y="576.5" font-size="6.8" text-anchor="middle"  style="stroke-width:0.12px">Time window delay, t<tspan font-size="5" dy="1.5">w</tspan><tspan dy="-1.5"> (ps)</tspan></text>
<text transform="translate(171.5,523) rotate(-90)" font-size="6.8" text-anchor="middle" style="stroke-width:0.12px">Frequency (THz)</text>
<rect x="298.2" y="486" width="8.8" height="72.7" fill="url(#cbV)" stroke="#aaa" stroke-width="0.5"/>
<text x="308.7" y="499.6" font-size="7" text-anchor="start"  style="stroke-width:0.12px">5</text>
<text x="308.7" y="525.1" font-size="7" text-anchor="start"  style="stroke-width:0.12px">0</text>
<text x="308.7" y="550.6" font-size="7" text-anchor="start"  style="stroke-width:0.12px">−5</text>
<text x="294" y="482" font-size="7" style="stroke-width:0.12px"><tspan font-style="italic">E</tspan><tspan font-size="5" dy="1.5">x</tspan><tspan dy="-1.5"> (a.u.)</tspan></text>
<rect x="54.5" y="371.0" width="266.5" height="214.4" fill="none" stroke="#1a1a1a" stroke-width="1.4"/>
<circle cx="65.2" cy="578.8" r="3.0" fill="#fff" stroke="#404052" stroke-width="1.05"/>
<circle cx="80.5" cy="562.0" r="3.0" fill="#fff" stroke="#404052" stroke-width="1.05"/>
<circle cx="97.3" cy="545.3" r="3.0" fill="#fff" stroke="#404052" stroke-width="1.05"/>
<circle cx="114.9" cy="528.5" r="3.0" fill="#fff" stroke="#404052" stroke-width="1.05"/>
<circle cx="130.9" cy="511.7" r="3.0" fill="#fff" stroke="#404052" stroke-width="1.05"/>
<circle cx="159.2" cy="495.0" r="3.0" fill="#fff" stroke="#404052" stroke-width="1.05"/>
<circle cx="181.0" cy="477.7" r="3.0" fill="#fff" stroke="#404052" stroke-width="1.05"/>
<circle cx="203.4" cy="461.4" r="3.0" fill="#fff" stroke="#404052" stroke-width="1.05"/>
<circle cx="225.7" cy="444.9" r="3.0" fill="#fff" stroke="#404052" stroke-width="1.05"/>
<circle cx="248.3" cy="427.8" r="3.0" fill="#fff" stroke="#404052" stroke-width="1.05"/>
<circle cx="270.4" cy="411.3" r="3.0" fill="#fff" stroke="#404052" stroke-width="1.05"/>
<circle cx="292.4" cy="394.4" r="3.0" fill="#fff" stroke="#404052" stroke-width="1.05"/>
<circle cx="314.5" cy="377.9" r="3.0" fill="#fff" stroke="#404052" stroke-width="1.05"/>
<circle cx="82" cy="392" r="2.9" fill="#fff" stroke="#3c3c4e" stroke-width="1.1"/>
<text x="100.4" y="396.0" font-size="11.5" text-anchor="start" >Exp.</text>
<line x1="68" y1="407.4" x2="95" y2="407.4" stroke="#5b9bd3" stroke-width="1.2"/>
<text x="100.4" y="411.3" font-size="11.5" text-anchor="start" >Fitting</text>
<line x1="68" y1="421.6" x2="95" y2="421.6" stroke="#f5c57e" stroke-width="1.2"/>
<text x="100.4" y="425.6" font-size="11.5" text-anchor="start" >Sim.</text>
<clipPath id="clipD"><rect x="404.4" y="42.4" width="128.0" height="195.2"/></clipPath>
<mask id="mD" maskUnits="userSpaceOnUse" x="380" y="20" width="180" height="240"><ellipse cx="453" cy="153" rx="27" ry="47" fill="url(#rgP)"/></mask>
<mask id="mD2" maskUnits="userSpaceOnUse" x="380" y="20" width="180" height="240"><ellipse cx="455" cy="142" rx="60" ry="110" fill="url(#rgW2)"/></mask>
<g clip-path="url(#clipD)">
<rect x="404.4" y="42.4" width="128.0" height="195.2" fill="#fdf0b3"/>
<g filter="url(#blur1)"><path d="M390.4,42.4 Q386.4,142.0 390.4,237.6" fill="none" stroke="#f9d596" stroke-width="3.6" opacity="0.6"/><path d="M401.0,42.4 Q397.0,142.0 401.0,237.6" fill="none" stroke="#f9d596" stroke-width="3.6" opacity="0.6"/><path d="M411.6,42.4 Q407.6,142.0 411.6,237.6" fill="none" stroke="#f9d596" stroke-width="3.6" opacity="0.6"/><path d="M422.2,42.4 Q418.2,142.0 422.2,237.6" fill="none" stroke="#f9d596" stroke-width="3.6" opacity="0.6"/><path d="M432.8,42.4 Q428.8,142.0 432.8,237.6" fill="none" stroke="#f9d596" stroke-width="3.6" opacity="0.6"/><path d="M443.4,42.4 Q439.4,142.0 443.4,237.6" fill="none" stroke="#f9d596" stroke-width="3.6" opacity="0.6"/><path d="M454.0,42.4 Q450.0,142.0 454.0,237.6" fill="none" stroke="#f9d596" stroke-width="3.6" opacity="0.6"/><path d="M464.6,42.4 Q460.6,142.0 464.6,237.6" fill="none" stroke="#f9d596" stroke-width="3.6" opacity="0.6"/><path d="M475.2,42.4 Q471.2,142.0 475.2,237.6" fill="none" stroke="#f9d596" stroke-width="3.6" opacity="0.6"/><path d="M485.8,42.4 Q481.8,142.0 485.8,237.6" fill="none" stroke="#f9d596" stroke-width="3.6" opacity="0.6"/><path d="M496.4,42.4 Q492.4,142.0 496.4,237.6" fill="none" stroke="#f9d596" stroke-width="3.6" opacity="0.6"/><path d="M507.0,42.4 Q503.0,142.0 507.0,237.6" fill="none" stroke="#f9d596" stroke-width="3.6" opacity="0.6"/><path d="M517.6,42.4 Q513.6,142.0 517.6,237.6" fill="none" stroke="#f9d596" stroke-width="3.6" opacity="0.6"/><path d="M528.2,42.4 Q524.2,142.0 528.2,237.6" fill="none" stroke="#f9d596" stroke-width="3.6" opacity="0.6"/><path d="M538.8,42.4 Q534.8,142.0 538.8,237.6" fill="none" stroke="#f9d596" stroke-width="3.6" opacity="0.6"/><path d="M549.4,42.4 Q545.4,142.0 549.4,237.6" fill="none" stroke="#f9d596" stroke-width="3.6" opacity="0.6"/></g>
<g mask="url(#mD2)" filter="url(#blur1)"><circle cx="659" cy="142" r="165.6" fill="none" stroke="#f7c27e" stroke-width="2.8"/><circle cx="659" cy="142" r="170.9" fill="none" stroke="#fffad6" stroke-width="2.8"/><circle cx="659" cy="142" r="176.2" fill="none" stroke="#f7c27e" stroke-width="2.8"/><circle cx="659" cy="142" r="181.5" fill="none" stroke="#fffad6" stroke-width="2.8"/><circle cx="659" cy="142" r="186.8" fill="none" stroke="#f7c27e" stroke-width="2.8"/><circle cx="659" cy="142" r="192.1" fill="none" stroke="#fffad6" stroke-width="2.8"/><circle cx="659" cy="142" r="197.4" fill="none" stroke="#f7c27e" stroke-width="2.8"/><circle cx="659" cy="142" r="202.7" fill="none" stroke="#fffad6" stroke-width="2.8"/><circle cx="659" cy="142" r="208.0" fill="none" stroke="#f7c27e" stroke-width="2.8"/><circle cx="659" cy="142" r="213.3" fill="none" stroke="#fffad6" stroke-width="2.8"/><circle cx="659" cy="142" r="218.6" fill="none" stroke="#f7c27e" stroke-width="2.8"/><circle cx="659" cy="142" r="223.9" fill="none" stroke="#fffad6" stroke-width="2.8"/><circle cx="659" cy="142" r="229.2" fill="none" stroke="#f7c27e" stroke-width="2.8"/><circle cx="659" cy="142" r="234.5" fill="none" stroke="#fffad6" stroke-width="2.8"/><circle cx="659" cy="142" r="239.8" fill="none" stroke="#f7c27e" stroke-width="2.8"/><circle cx="659" cy="142" r="245.1" fill="none" stroke="#fffad6" stroke-width="2.8"/><circle cx="659" cy="142" r="250.4" fill="none" stroke="#f7c27e" stroke-width="2.8"/><circle cx="659" cy="142" r="255.7" fill="none" stroke="#fffad6" stroke-width="2.8"/></g>
<g mask="url(#mD)" filter="url(#blur1)"><circle cx="659" cy="142" r="186.8" fill="none" stroke="#cc2c24" stroke-width="2.8"/><circle cx="659" cy="142" r="192.1" fill="none" stroke="#3179b9" stroke-width="2.8"/><circle cx="659" cy="142" r="197.4" fill="none" stroke="#cc2c24" stroke-width="2.8"/><circle cx="659" cy="142" r="202.7" fill="none" stroke="#3179b9" stroke-width="2.8"/><circle cx="659" cy="142" r="208.0" fill="none" stroke="#cc2c24" stroke-width="2.8"/><circle cx="659" cy="142" r="213.3" fill="none" stroke="#3179b9" stroke-width="2.8"/><circle cx="659" cy="142" r="218.6" fill="none" stroke="#cc2c24" stroke-width="2.8"/><circle cx="659" cy="142" r="223.9" fill="none" stroke="#3179b9" stroke-width="2.8"/><circle cx="659" cy="142" r="229.2" fill="none" stroke="#cc2c24" stroke-width="2.8"/></g>
<ellipse cx="451.5" cy="142" rx="1" ry="10" fill="#f4c9c4" opacity="0.8" filter="url(#blur1)"/>
</g>
<linearGradient id="gProf" gradientUnits="userSpaceOnUse" x1="532.4" y1="0" x2="636" y2="0"><stop offset="0" stop-color="#2c2a48"/><stop offset="0.22" stop-color="#4a4b7e"/><stop offset="0.4" stop-color="#5e6298"/><stop offset="0.52" stop-color="#8a6fa3"/><stop offset="0.68" stop-color="#d88bb3"/><stop offset="0.85" stop-color="#efb9c0"/><stop offset="1" stop-color="#f8e2cc"/></linearGradient>
<polygon points="532.4,42.4 571.0,42.4 570.0,48.9 568.0,55.4 572.0,58.7 567.0,61.9 573.0,65.2 568.0,68.4 573.0,71.7 567.0,74.9 572.0,78.2 569.0,81.4 573.0,84.7 571.0,88.0 572.0,91.2 564.0,94.5 555.0,97.7 553.0,101.0 554.0,104.2 558.0,107.5 566.0,110.7 572.0,114.0 582.0,117.2 592.0,120.5 606.0,123.7 615.0,127.0 621.0,130.2 627.0,133.5 630.0,135.1 631.0,136.7 633.0,138.4 632.0,140.0 634.0,141.6 630.0,143.3 632.0,144.9 629.0,146.5 623.0,149.8 613.0,153.0 604.0,156.3 594.0,159.5 586.0,162.8 575.0,166.0 566.0,169.3 558.0,172.5 553.0,175.8 550.0,177.4 549.0,179.0 553.0,182.3 558.0,185.5 563.0,188.8 569.0,192.0 574.0,195.3 576.0,198.6 573.0,201.8 576.0,205.1 571.0,208.3 575.0,211.6 570.0,214.8 574.0,218.1 569.0,221.3 573.0,224.6 570.0,227.8 574.0,231.1 571.0,234.3 572.0,237.6 532.4,237.6" fill="url(#gProf)"/>
<polyline points="571.0,42.4 570.0,48.9 568.0,55.4 572.0,58.7 567.0,61.9 573.0,65.2 568.0,68.4 573.0,71.7 567.0,74.9 572.0,78.2 569.0,81.4 573.0,84.7 571.0,88.0 572.0,91.2 564.0,94.5 555.0,97.7 553.0,101.0 554.0,104.2 558.0,107.5 566.0,110.7 572.0,114.0 582.0,117.2 592.0,120.5 606.0,123.7 615.0,127.0 621.0,130.2 627.0,133.5 630.0,135.1 631.0,136.7 633.0,138.4 632.0,140.0 634.0,141.6 630.0,143.3 632.0,144.9 629.0,146.5 623.0,149.8 613.0,153.0 604.0,156.3 594.0,159.5 586.0,162.8 575.0,166.0 566.0,169.3 558.0,172.5 553.0,175.8 550.0,177.4 549.0,179.0 553.0,182.3 558.0,185.5 563.0,188.8 569.0,192.0 574.0,195.3 576.0,198.6 573.0,201.8 576.0,205.1 571.0,208.3 575.0,211.6 570.0,214.8 574.0,218.1 569.0,221.3 573.0,224.6 570.0,227.8 574.0,231.1 571.0,234.3 572.0,237.6" fill="none" stroke="#111" stroke-width="0.8"/>
<path d="M532.4,42.4 H639.8 V237.6 H532.4" fill="none" stroke="#999" stroke-width="0.8"/>
<line x1="594" y1="42.4" x2="594" y2="237.6" stroke="#555" stroke-width="1.1" stroke-dasharray="1.3 2.4"/>
<line x1="404.4" y1="121.6" x2="532.4" y2="121.6" stroke="#8a7a30" stroke-width="1.5" stroke-dasharray="4.5 3"/>
<line x1="532.4" y1="121.6" x2="639.8" y2="121.6" stroke="#e9dcb8" stroke-width="1.1" stroke-dasharray="4 3" opacity="0.8"/>
<line x1="404.4" y1="161.2" x2="532.4" y2="161.2" stroke="#8a7a30" stroke-width="1.5" stroke-dasharray="4.5 3"/>
<line x1="532.4" y1="161.2" x2="639.8" y2="161.2" stroke="#e9dcb8" stroke-width="1.1" stroke-dasharray="4 3" opacity="0.8"/>
<rect x="404.4" y="42.4" width="128.0" height="195.2" fill="none" stroke="#aaa" stroke-width="0.7"/>
<rect x="451.2" y="202.4" width="81.2" height="35.2" fill="#fff" stroke="#999" stroke-width="0.7" stroke-dasharray="2 1.5"/>
<linearGradient id="cbH" x1="0" y1="0" x2="1" y2="0"><stop offset="0.000" stop-color="#2a70b0"/><stop offset="0.100" stop-color="#5a9bcb"/><stop offset="0.200" stop-color="#9fcbe3"/><stop offset="0.300" stop-color="#d6ecf3"/><stop offset="0.400" stop-color="#eef7e2"/><stop offset="0.500" stop-color="#fff7b2"/><stop offset="0.600" stop-color="#fee196"/><stop offset="0.700" stop-color="#f9b464"/><stop offset="0.800" stop-color="#ee7440"/><stop offset="0.875" stop-color="#d7352b"/><stop offset="0.940" stop-color="#e48585"/><stop offset="1.000" stop-color="#fbe4e4"/></linearGradient>
<rect x="454" y="206" width="75" height="9" fill="url(#cbH)" stroke="#aaa" stroke-width="0.5"/>
<text x="465.5" y="224.8" font-size="10" text-anchor="middle" >−5</text>
<text x="491.5" y="224.8" font-size="10" text-anchor="middle" >0</text>
<text x="517.5" y="224.8" font-size="10" text-anchor="middle" >5</text>
<text x="491.5" y="235" font-size="10" text-anchor="middle"><tspan font-style="italic">E</tspan><tspan font-size="7.5" dy="2.3">x</tspan><tspan dy="-2.3"> (a.u.)</tspan></text>
<line x1="451.2" y1="42.4" x2="451.2" y2="237.6" stroke="#3f69a8" stroke-width="1.2" stroke-dasharray="4 3"/>
<text x="399.5" y="46.8" font-size="11.5" text-anchor="end" >3</text>
<text x="399.5" y="79.3" font-size="11.5" text-anchor="end" >2</text>
<text x="399.5" y="111.9" font-size="11.5" text-anchor="end" >1</text>
<text x="399.5" y="144.4" font-size="11.5" text-anchor="end" >0</text>
<text x="399.5" y="176.9" font-size="11.5" text-anchor="end" >−1</text>
<text x="399.5" y="209.5" font-size="11.5" text-anchor="end" >−2</text>
<text x="399.5" y="242.0" font-size="11.5" text-anchor="end" >−3</text>
<text x="418.8" y="251.0" font-size="11.5" text-anchor="middle" >−10</text>
<text x="451.2" y="251.0" font-size="11.5" text-anchor="middle" >0</text>
<text x="483.6" y="251.0" font-size="11.5" text-anchor="middle" >10</text>
<text x="516.0" y="251.0" font-size="11.5" text-anchor="middle" >20</text>
<text x="542.1" y="251.5" font-size="11.5" text-anchor="middle" >−3</text>
<text x="571.3" y="251.5" font-size="11.5" text-anchor="middle" >0</text>
<text x="600.5" y="251.5" font-size="11.5" text-anchor="middle" >3</text>
<text x="629.7" y="251.5" font-size="11.5" text-anchor="middle" >6</text>
<text x="468.3" y="267" font-size="11.7" text-anchor="middle">Time window delay, t<tspan font-size="8" dy="2.5">w</tspan><tspan dy="-2.5"> (ps)</tspan></text>
<text x="566" y="267.3" font-size="11.4"><tspan font-style="italic">E</tspan><tspan font-size="8" dy="2.5">x</tspan><tspan dy="-2.5"> (a.u.)</tspan></text>
<text transform="translate(376.7,139.8) rotate(-90)" font-size="11.7" text-anchor="middle">Position along AA (mm)</text>
<text x="526.0" y="55.0" font-size="10" text-anchor="end" >0.3 THz</text>
<text x="581.6" y="56" font-size="9.7"><tspan font-style="italic">t</tspan><tspan font-size="7.5" dy="2.3">w</tspan><tspan dy="-2.3"> = −0.52 ps</tspan></text>
<clipPath id="clipS"><rect x="403.6" y="344.2" width="237.2" height="119.2"/></clipPath>
<clipPath id="clipX"><rect x="403.6" y="463.4" width="237.2" height="119.1"/></clipPath>
<g clip-path="url(#clipS)">
<rect x="403.6" y="344.2" width="237.2" height="119.2" fill="#fef4bd"/>
<g filter="url(#blur3)"><circle cx="452.0" cy="355.5" r="30" fill="#fdefb4"/><circle cx="592.4" cy="355.5" r="30" fill="#fde6a0"/><circle cx="487.1" cy="416.0" r="30" fill="#fde9a8"/><circle cx="557.3" cy="416.0" r="30" fill="#fde6a2"/><circle cx="416.9" cy="416.0" r="30" fill="#f8f5cc"/><circle cx="627.5" cy="416.0" r="30" fill="#fbf5c6"/><circle cx="522.2" cy="355.5" r="30" fill="#f4f6d8"/><circle cx="452.0" cy="476.5" r="30" fill="#fde4a0"/><circle cx="592.4" cy="476.5" r="30" fill="#fde4a0"/><circle cx="522.2" cy="476.5" r="30" fill="#d5eaf0"/><circle cx="381.8" cy="355.5" r="30" fill="#fde4a0"/><circle cx="662.6" cy="355.5" r="30" fill="#fdeeb0"/></g>
<g filter="url(#blur3)"><ellipse cx="470" cy="378" rx="15" ry="9" fill="#f7bd7b" opacity="0.85"/><ellipse cx="574" cy="378" rx="15" ry="9" fill="#f7bd7b" opacity="0.85"/><ellipse cx="503" cy="438" rx="9" ry="7" fill="#f7bf7c" opacity="0.80"/><ellipse cx="541" cy="438" rx="9" ry="7" fill="#f7bf7c" opacity="0.80"/><ellipse cx="470" cy="448" rx="10" ry="5" fill="#fbd08e" opacity="0.60"/><ellipse cx="574" cy="448" rx="10" ry="5" fill="#fbd08e" opacity="0.60"/><ellipse cx="404" cy="365" rx="6" ry="12" fill="#f9c888" opacity="0.60"/><ellipse cx="500" cy="416" rx="10" ry="16" fill="#f9cc8c" opacity="0.80"/><ellipse cx="544" cy="416" rx="10" ry="16" fill="#f9cc8c" opacity="0.80"/><ellipse cx="522" cy="380" rx="22" ry="7" fill="#cde5ef" opacity="0.9"/><ellipse cx="545" cy="368" rx="8" ry="10" fill="#deeef0" opacity="0.7"/><ellipse cx="603" cy="418" rx="6" ry="16" fill="#d6eaef" opacity="0.8"/><ellipse cx="441" cy="418" rx="6" ry="14" fill="#e6f1e4" opacity="0.7"/></g>
<ellipse cx="522" cy="417" rx="16" ry="21" fill="#f6b06c" opacity="0.85" filter="url(#blur4)"/>
<ellipse cx="522" cy="418" rx="12" ry="16" fill="#ef8048" filter="url(#blur3)"/>
<ellipse cx="515" cy="418" rx="3.5" ry="11" fill="#d2322a" filter="url(#blur2)"/>
<ellipse cx="529.5" cy="418" rx="3.5" ry="11" fill="#d2322a" filter="url(#blur2)"/>
<ellipse cx="522" cy="425" rx="4" ry="7" fill="#d4352b" filter="url(#blur2)"/>
<ellipse cx="522" cy="440" rx="16" ry="3" fill="#fdf7d0" filter="url(#blur1)"/>
<ellipse cx="522" cy="456" rx="17" ry="9" fill="#c3e0ee" filter="url(#blur3)"/>
<ellipse cx="523" cy="448.5" rx="8" ry="2.6" fill="#3a82c0" filter="url(#blur2)"/>
</g>
<filter id="noise" x="0" y="0" width="100%" height="100%"><feTurbulence type="fractalNoise" baseFrequency="0.5 0.5" numOctaves="2" seed="4"/><feColorMatrix type="matrix" values="0 0 0 0 1  0 0 0 0 1  0 0 0 0 1  0 0 0 0.9 -0.35"/></filter>
<g clip-path="url(#clipX)">
<rect x="403.6" y="463.4" width="237.2" height="119.1" fill="#fdf1bc"/>
<g filter="url(#blur3)"><circle cx="276.5" cy="414.2" r="30" fill="#fce5a2"/><circle cx="346.7" cy="414.2" r="30" fill="#fce5a2"/><circle cx="416.9" cy="414.2" r="30" fill="#fce5a2"/><circle cx="487.1" cy="414.2" r="30" fill="#fce5a2"/><circle cx="557.3" cy="414.2" r="30" fill="#fce5a2"/><circle cx="627.5" cy="414.2" r="30" fill="#fce5a2"/><circle cx="697.7" cy="414.2" r="30" fill="#fce5a2"/><circle cx="767.9" cy="414.2" r="30" fill="#fce5a2"/><circle cx="241.4" cy="474.7" r="30" fill="#fce5a2"/><circle cx="311.6" cy="474.7" r="30" fill="#fce5a2"/><circle cx="381.8" cy="474.7" r="30" fill="#fce5a2"/><circle cx="452.0" cy="474.7" r="30" fill="#fce5a2"/><circle cx="522.2" cy="474.7" r="30" fill="#fce5a2"/><circle cx="592.4" cy="474.7" r="30" fill="#fce5a2"/><circle cx="662.6" cy="474.7" r="30" fill="#fce5a2"/><circle cx="732.8" cy="474.7" r="30" fill="#fce5a2"/><circle cx="276.5" cy="535.2" r="30" fill="#fce5a2"/><circle cx="346.7" cy="535.2" r="30" fill="#fce5a2"/><circle cx="416.9" cy="535.2" r="30" fill="#fce5a2"/><circle cx="487.1" cy="535.2" r="30" fill="#fce5a2"/><circle cx="557.3" cy="535.2" r="30" fill="#fce5a2"/><circle cx="627.5" cy="535.2" r="30" fill="#fce5a2"/><circle cx="697.7" cy="535.2" r="30" fill="#fce5a2"/><circle cx="767.9" cy="535.2" r="30" fill="#fce5a2"/><circle cx="241.4" cy="595.7" r="30" fill="#fce5a2"/><circle cx="311.6" cy="595.7" r="30" fill="#fce5a2"/><circle cx="381.8" cy="595.7" r="30" fill="#fce5a2"/><circle cx="452.0" cy="595.7" r="30" fill="#fce5a2"/><circle cx="522.2" cy="595.7" r="30" fill="#fce5a2"/><circle cx="592.4" cy="595.7" r="30" fill="#fce5a2"/><circle cx="662.6" cy="595.7" r="30" fill="#fce5a2"/><circle cx="732.8" cy="595.7" r="30" fill="#fce5a2"/><circle cx="276.5" cy="656.2" r="30" fill="#fce5a2"/><circle cx="346.7" cy="656.2" r="30" fill="#fce5a2"/><circle cx="416.9" cy="656.2" r="30" fill="#fce5a2"/><circle cx="487.1" cy="656.2" r="30" fill="#fce5a2"/><circle cx="557.3" cy="656.2" r="30" fill="#fce5a2"/><circle cx="627.5" cy="656.2" r="30" fill="#fce5a2"/><circle cx="697.7" cy="656.2" r="30" fill="#fce5a2"/><circle cx="767.9" cy="656.2" r="30" fill="#fce5a2"/></g>
<g filter="url(#blur4)"><ellipse cx="452" cy="484" rx="28" ry="12" fill="#f4b070" opacity="0.90" transform="rotate(25 452 484)"/><ellipse cx="432" cy="548" rx="22" ry="8" fill="#f8c07c" opacity="0.80" transform="rotate(-30 432 548)"/><ellipse cx="490" cy="545" rx="14" ry="22" fill="#fbd08c" opacity="0.75" transform="rotate(20 490 545)"/><ellipse cx="598" cy="482" rx="28" ry="11" fill="#f8c680" opacity="0.80" transform="rotate(25 598 482)"/><ellipse cx="632" cy="535" rx="10" ry="22" fill="#f7c27c" opacity="0.75" transform="rotate(0 632 535)"/><ellipse cx="545" cy="565" rx="26" ry="9" fill="#fbd894" opacity="0.70" transform="rotate(0 545 565)"/><ellipse cx="470" cy="578" rx="18" ry="5" fill="#fbd08c" opacity="0.60" transform="rotate(0 470 578)"/><ellipse cx="585" cy="545" rx="12" ry="16" fill="#fcdc9a" opacity="0.60" transform="rotate(0 585 545)"/><ellipse cx="410" cy="490" rx="8" ry="12" fill="#f9cc88" opacity="0.60" transform="rotate(0 410 490)"/><ellipse cx="423" cy="518" rx="18" ry="10" fill="#cae3f1" opacity="0.95" transform="rotate(-20 423 518)"/><ellipse cx="535" cy="472" rx="24" ry="7" fill="#d5eaf2" opacity="0.90" transform="rotate(-10 535 472)"/><ellipse cx="632" cy="470" rx="10" ry="6" fill="#e2f0e4" opacity="0.70" transform="rotate(0 632 470)"/><ellipse cx="410" cy="566" rx="8" ry="8" fill="#e3f0ea" opacity="0.60" transform="rotate(0 410 566)"/><ellipse cx="505" cy="565" rx="10" ry="5" fill="#e8f2e0" opacity="0.60" transform="rotate(0 505 565)"/></g>
<ellipse cx="533" cy="520" rx="29" ry="28" fill="#f4a561" filter="url(#blur4)"/>
<ellipse cx="533" cy="519" rx="22" ry="22" fill="#d8412e" filter="url(#blur3)"/>
<ellipse cx="535" cy="520" rx="17" ry="19" fill="#cf2f2a" filter="url(#blur2)"/>
<ellipse cx="539" cy="521" rx="9" ry="13" fill="#efc4c4" opacity="0.8" filter="url(#blur3)"/>
<rect x="403.6" y="463.4" width="237.2" height="119.1" filter="url(#noise)" opacity="0.5"/>
</g>
<g clip-path="url(#clipS)"><g fill="none" stroke="#fff" stroke-width="3.1" opacity="0.62" filter="url(#blurR)"><circle cx="276.5" cy="295.0" r="32.4"/><circle cx="346.7" cy="295.0" r="32.4"/><circle cx="416.9" cy="295.0" r="32.4"/><circle cx="487.1" cy="295.0" r="32.4"/><circle cx="557.3" cy="295.0" r="32.4"/><circle cx="627.5" cy="295.0" r="32.4"/><circle cx="697.7" cy="295.0" r="32.4"/><circle cx="767.9" cy="295.0" r="32.4"/><circle cx="241.4" cy="355.5" r="32.4"/><circle cx="311.6" cy="355.5" r="32.4"/><circle cx="381.8" cy="355.5" r="32.4"/><circle cx="452.0" cy="355.5" r="32.4"/><circle cx="522.2" cy="355.5" r="32.4"/><circle cx="592.4" cy="355.5" r="32.4"/><circle cx="662.6" cy="355.5" r="32.4"/><circle cx="732.8" cy="355.5" r="32.4"/><circle cx="276.5" cy="416.0" r="32.4"/><circle cx="346.7" cy="416.0" r="32.4"/><circle cx="416.9" cy="416.0" r="32.4"/><circle cx="487.1" cy="416.0" r="32.4"/><circle cx="557.3" cy="416.0" r="32.4"/><circle cx="627.5" cy="416.0" r="32.4"/><circle cx="697.7" cy="416.0" r="32.4"/><circle cx="767.9" cy="416.0" r="32.4"/><circle cx="241.4" cy="476.5" r="32.4"/><circle cx="311.6" cy="476.5" r="32.4"/><circle cx="381.8" cy="476.5" r="32.4"/><circle cx="452.0" cy="476.5" r="32.4"/><circle cx="522.2" cy="476.5" r="32.4"/><circle cx="592.4" cy="476.5" r="32.4"/><circle cx="662.6" cy="476.5" r="32.4"/><circle cx="732.8" cy="476.5" r="32.4"/><circle cx="276.5" cy="537.0" r="32.4"/><circle cx="346.7" cy="537.0" r="32.4"/><circle cx="416.9" cy="537.0" r="32.4"/><circle cx="487.1" cy="537.0" r="32.4"/><circle cx="557.3" cy="537.0" r="32.4"/><circle cx="627.5" cy="537.0" r="32.4"/><circle cx="697.7" cy="537.0" r="32.4"/><circle cx="767.9" cy="537.0" r="32.4"/></g></g>
<g clip-path="url(#clipX)"><g fill="none" stroke="#fff" stroke-width="3.3" opacity="0.6" filter="url(#blurR)"><circle cx="276.5" cy="414.2" r="32.4"/><circle cx="346.7" cy="414.2" r="32.4"/><circle cx="416.9" cy="414.2" r="32.4"/><circle cx="487.1" cy="414.2" r="32.4"/><circle cx="557.3" cy="414.2" r="32.4"/><circle cx="627.5" cy="414.2" r="32.4"/><circle cx="697.7" cy="414.2" r="32.4"/><circle cx="767.9" cy="414.2" r="32.4"/><circle cx="241.4" cy="474.7" r="32.4"/><circle cx="311.6" cy="474.7" r="32.4"/><circle cx="381.8" cy="474.7" r="32.4"/><circle cx="452.0" cy="474.7" r="32.4"/><circle cx="522.2" cy="474.7" r="32.4"/><circle cx="592.4" cy="474.7" r="32.4"/><circle cx="662.6" cy="474.7" r="32.4"/><circle cx="732.8" cy="474.7" r="32.4"/><circle cx="276.5" cy="535.2" r="32.4"/><circle cx="346.7" cy="535.2" r="32.4"/><circle cx="416.9" cy="535.2" r="32.4"/><circle cx="487.1" cy="535.2" r="32.4"/><circle cx="557.3" cy="535.2" r="32.4"/><circle cx="627.5" cy="535.2" r="32.4"/><circle cx="697.7" cy="535.2" r="32.4"/><circle cx="767.9" cy="535.2" r="32.4"/><circle cx="241.4" cy="595.7" r="32.4"/><circle cx="311.6" cy="595.7" r="32.4"/><circle cx="381.8" cy="595.7" r="32.4"/><circle cx="452.0" cy="595.7" r="32.4"/><circle cx="522.2" cy="595.7" r="32.4"/><circle cx="592.4" cy="595.7" r="32.4"/><circle cx="662.6" cy="595.7" r="32.4"/><circle cx="732.8" cy="595.7" r="32.4"/><circle cx="276.5" cy="656.2" r="32.4"/><circle cx="346.7" cy="656.2" r="32.4"/><circle cx="416.9" cy="656.2" r="32.4"/><circle cx="487.1" cy="656.2" r="32.4"/><circle cx="557.3" cy="656.2" r="32.4"/><circle cx="627.5" cy="656.2" r="32.4"/><circle cx="697.7" cy="656.2" r="32.4"/><circle cx="767.9" cy="656.2" r="32.4"/></g></g>
<rect x="403.6" y="344.2" width="237.2" height="119.2" fill="none" stroke="#666" stroke-width="0.9" stroke-dasharray="2.5 1.5"/>
<rect x="403.6" y="463.4" width="237.2" height="119.1" fill="none" stroke="#8a8a8a" stroke-width="1.6"/>
<text x="411.4" y="365.5" font-size="10.5" text-anchor="start" >Sim.</text>
<text x="411.4" y="483.5" font-size="10.5" text-anchor="start" >Exp.</text>
<text x="399.5" y="370.0" font-size="11.5" text-anchor="end" >1</text>
<text x="399.5" y="409.6" font-size="11.5" text-anchor="end" >0</text>
<text x="399.5" y="449.0" font-size="11.5" text-anchor="end" >−1</text>
<text x="399.5" y="488.5" font-size="11.5" text-anchor="end" >1</text>
<text x="399.5" y="527.5" font-size="11.5" text-anchor="end" >0</text>
<text x="399.5" y="567.2" font-size="11.5" text-anchor="end" >−1</text>
<text x="403.6" y="596.0" font-size="11.5" text-anchor="middle" >−3</text>
<text x="443.1" y="596.0" font-size="11.5" text-anchor="middle" >−2</text>
<text x="482.7" y="596.0" font-size="11.5" text-anchor="middle" >−1</text>
<text x="522.2" y="596.0" font-size="11.5" text-anchor="middle" >0</text>
<text x="561.7" y="596.0" font-size="11.5" text-anchor="middle" >1</text>
<text x="601.3" y="596.0" font-size="11.5" text-anchor="middle" >2</text>
<text x="640.8" y="596.0" font-size="11.5" text-anchor="middle" >3</text>
<text x="522.2" y="613.4" font-size="11.5" text-anchor="middle" >Position along BB (mm)</text>
<text transform="translate(376.7,463.5) rotate(-90)" font-size="11.8" text-anchor="middle">Position along AA (mm)</text>
<rect x="645.2" y="465.5" width="13.6" height="116.8" fill="url(#cbV)" stroke="#999" stroke-width="0.7"/>
<text x="662.6" y="486.9" font-size="11.5" text-anchor="start" >5</text>
<text x="662.6" y="528.2" font-size="11.5" text-anchor="start" >0</text>
<text x="662.6" y="569.6" font-size="11.5" text-anchor="start" >−5</text>
<text x="645" y="458" font-size="11.5"><tspan font-style="italic">E</tspan><tspan font-size="8" dy="2.5">x</tspan><tspan dy="-2.5"> (a.u.)</tspan></text>
</svg></body></html>
